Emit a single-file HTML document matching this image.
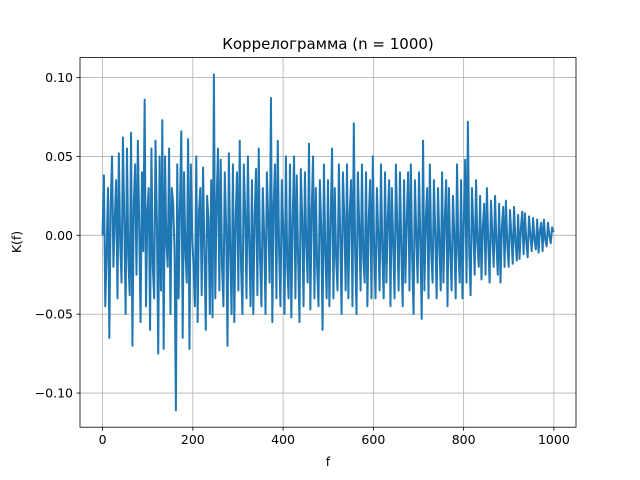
<!DOCTYPE html>
<html><head><meta charset="utf-8"><style>
body{margin:0;background:#fff;}
svg{display:block;font-family:"DejaVu Sans","Liberation Sans",sans-serif;}
</style></head><body>
<svg id="chart" width="640" height="480" viewBox="0 0 640 480" xmlns="http://www.w3.org/2000/svg">
<rect width="640" height="480" fill="#fff"/>
<g id="grid"></g>
<g id="series"></g>
<rect x="80" y="57.6" width="496" height="369.6" fill="none" stroke="#000" stroke-width="0.8"/>
<g id="ticks" font-size="12.5"></g>
<text x="328" y="49" text-anchor="middle" font-size="15">Коррелограмма (n = 1000)</text>
<text x="328" y="466" text-anchor="middle" font-size="12.5">f</text>
<text transform="translate(21,242) rotate(-90)" text-anchor="middle" font-size="12.5">K(f)</text>
</svg>
<script>
const maxLag = 999;
const values = [
0.0,0.038,-0.045,-0.01,0.03,-0.065,0.02,0.05,-0.02,0.01,0.035,-0.04,0.052,-0.005,
-0.03,0.062,0.01,-0.05,0.055,-0.015,-0.038,0.065,-0.07,0.02,0.045,-0.025,0.06,0.005,
-0.055,0.04,-0.01,0.086,-0.045,0.015,0.03,-0.06,0.055,-0.02,-0.04,0.06,0.01,
-0.075,0.05,-0.035,0.073,-0.072,0.05,-0.005,-0.02,0.055,-0.05,0.03,0.02,-0.01,
-0.111,0.045,-0.04,0.02,0.066,-0.065,0.04,-0.01,-0.03,0.061,-0.072,0.045,0.0,-0.02,
-0.045,0.05,-0.055,0.015,0.03,-0.038,0.043,-0.01,-0.06,0.025,0.01,-0.05,0.035,
-0.052,0.102,-0.04,0.02,0.055,-0.035,0.048,-0.02,-0.045,0.04,0.005,-0.07,0.052,-0.01,
-0.05,0.045,-0.055,0.01,0.04,-0.035,0.06,-0.02,-0.05,0.045,0.015,-0.04,0.05,-0.005,
-0.045,0.035,-0.05,0.012,0.042,-0.038,0.055,-0.015,-0.045,0.03,0.0,-0.05,0.04,0.01,
-0.03,0.087,-0.055,0.02,0.045,-0.04,0.06,-0.01,-0.045,0.035,0.005,-0.05,0.05,-0.02,
-0.04,0.045,-0.052,0.01,0.05,-0.04,0.038,-0.015,-0.055,0.042,0.01,-0.045,0.04,-0.005,
-0.03,0.058,-0.047,0.015,0.05,-0.04,0.03,-0.02,-0.045,0.035,0.005,-0.06,0.045,-0.01,
-0.04,0.035,-0.045,0.01,0.055,-0.04,0.03,-0.015,-0.035,0.045,0.0,-0.05,0.04,0.01,
-0.035,0.045,-0.04,0.015,0.035,-0.045,0.071,-0.01,-0.05,0.04,0.005,-0.035,0.045,-0.015,
-0.03,0.04,-0.045,0.01,0.035,-0.04,0.05,-0.01,-0.04,0.03,0.0,-0.035,0.045,-0.01,
-0.04,0.04,-0.03,0.01,0.035,-0.045,0.03,-0.005,-0.04,0.045,0.005,-0.035,0.04,-0.01,
-0.045,0.035,-0.03,0.01,0.04,-0.035,0.045,-0.015,-0.05,0.035,0.0,-0.03,0.04,-0.005,
-0.053,0.06,-0.035,0.01,0.03,-0.04,0.045,-0.01,-0.03,0.035,0.0,-0.04,0.03,-0.005,
-0.035,0.04,-0.03,0.01,0.035,-0.045,0.03,-0.01,-0.035,0.025,0.0,-0.04,0.045,-0.01,
-0.03,0.035,-0.04,0.01,0.048,-0.03,0.072,-0.01,-0.038,0.03,0.005,-0.025,0.035,-0.005,
-0.02,0.025,-0.028,0.005,0.02,-0.025,0.03,-0.005,-0.03,0.022,0.0,-0.02,0.025,-0.005,
-0.025,0.02,-0.03,0.005,0.018,-0.02,0.022,-0.005,-0.02,0.016,0.0,-0.018,0.018,-0.004,
-0.016,0.013,-0.015,0.004,0.015,-0.012,0.014,-0.004,-0.014,0.012,0.0,-0.01,0.011,-0.003,
-0.009,0.01,-0.011,0.003,0.008,-0.01,0.01,-0.003,-0.007,0.008,0.0,-0.005,0.005,0.002
];
const xTicks = [0,200,400,600,800,1000];
const yTicks = [-0.10,-0.05,0.00,0.05,0.10];
const yTickLabels = ["\u22120.10","\u22120.05","0.00","0.05","0.10"];

const X0=80,X1=576,Y0=57.6,Y1=427.2;
const lags = values.map((v,i)=>i*maxLag/(values.length-1));
const xmin=0, xmax=maxLag;
const ymin=Math.min(...values), ymax=Math.max(...values);
const xpad=(xmax-xmin)*0.05, ypad=(ymax-ymin)*0.05;
const xs=v=>X0+(v-(xmin-xpad))/((xmax+xpad)-(xmin-xpad))*(X1-X0);
const ys=v=>Y1-(v-(ymin-ypad))/((ymax+ypad)-(ymin-ypad))*(Y1-Y0);
const NS="http://www.w3.org/2000/svg";
function mk(t,a,p){const e=document.createElementNS(NS,t);for(const k in a)e.setAttribute(k,a[k]);p.appendChild(e);return e;}
const grid=document.getElementById('grid'),ticks=document.getElementById('ticks'),series=document.getElementById('series');
xTicks.forEach(t=>{const x=xs(t);
 const g=mk('line',{x1:x,x2:x,y1:Y0,y2:Y1,stroke:'#b0b0b0','stroke-width':0.8},grid);
 
 
 const l=mk('line',{x1:x,x2:x,y1:Y1,y2:Y1+3.5,stroke:'#000','stroke-width':0.8},ticks);
 
 
 const tx=mk('text',{x:x,y:Y1+17,'text-anchor':'middle'},ticks);tx.textContent=t;
 
 
});
yTicks.forEach((t,i)=>{const y=ys(t);
 const g=mk('line',{x1:X0,x2:X1,y1:y,y2:y,stroke:'#b0b0b0','stroke-width':0.8},grid);
 
 
 const l=mk('line',{x1:X0-3.5,x2:X0,y1:y,y2:y,stroke:'#000','stroke-width':0.8},ticks);
 
 
 const tx=mk('text',{x:X0-7,y:y+4.5,'text-anchor':'end'},ticks);tx.textContent=yTickLabels[i];
 
 
});
const d=values.map((v,i)=>(i?'L':'M')+xs(lags[i]).toFixed(2)+','+ys(v).toFixed(2)).join('');
const p=mk('path',{d:d,fill:'none',stroke:'#1f77b4','stroke-width':2,'stroke-linejoin':'round'},series);


</script>
</body></html>
